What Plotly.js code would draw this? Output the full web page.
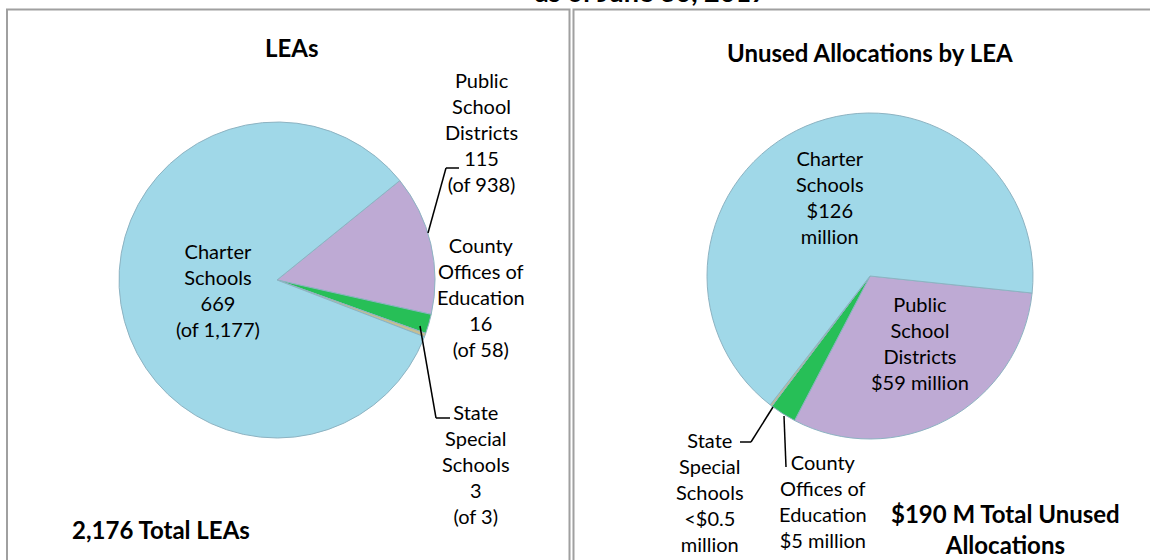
<!DOCTYPE html>
<html>
<head>
<meta charset="utf-8">
<script src="https://cdn.plot.ly/plotly-3.0.1.min.js"></script>
<style>
  html, body { margin: 0; padding: 0; background: #fff; }
  #chart { width: 1150px; height: 560px; }
</style>
</head>
<body>
<div id="chart"></div>
<script>
// slice order: districts, county offices, state special, charter
var sliceNames = ['Public School Districts', 'County Offices of Education', 'State Special Schools', 'Charter Schools'];
var sliceLabels = ['Public<br>School<br>Districts', 'County<br>Offices of<br>Education', 'State<br>Special<br>Schools', 'Charter<br>Schools'];
var sliceColors = ['#BEAAD4', '#27BF57', '#C6BE92', '#A0D8E8'];

var leaCounts = [115, 16, 3, 669];
var leaTotals = [938, 58, 3, 1177];
var leaGrandTotal = '2,176';

var unusedMillions = [59, 5, 0.4, 126];
var unusedText = ['$59 million', '$5 million', '<$0.5<br>million', '$126<br>million'];
var unusedGrandTotal = '$190 M';

var W = 1150, H = 560;
var FONT = 'Lato, "Open Sans", sans-serif';

function px(x) { return x / W; }
function py(y) { return 1 - y / H; }

function fmt(n) { return n.toLocaleString('en-US'); }

var leaText = sliceLabels.map(function (l, i) {
    return l + '<br>' + fmt(leaCounts[i]) + '<br>(of ' + fmt(leaTotals[i]) + ')';
});
var allocText = sliceLabels.map(function (l, i) {
    return l + '<br>' + unusedText[i];
});

var leaPie = {
    type: 'pie',
    labels: sliceNames,
    values: leaCounts,
    sort: false,
    direction: 'clockwise',
    rotation: 51,
    textinfo: 'none',
    hoverinfo: 'label+value',
    marker: { colors: sliceColors, line: { color: '#8DB3C2', width: 1 } },
    domain: { x: [px(277 - 158), px(277 + 158)], y: [py(280 + 158), py(280 - 158)] },
    showlegend: false
};

var allocPie = {
    type: 'pie',
    labels: sliceNames,
    values: unusedMillions,
    sort: false,
    direction: 'clockwise',
    rotation: 96,
    textinfo: 'none',
    hoverinfo: 'label+value',
    marker: { colors: sliceColors, line: { color: '#8DB3C2', width: 1 } },
    domain: { x: [px(870 - 163), px(870 + 163)], y: [py(276 + 163), py(276 - 163)] },
    showlegend: false
};

function note(text, x, y, size, bold) {
    return {
        xref: 'paper', yref: 'paper',
        x: px(x), y: py(y),
        xanchor: 'center', yanchor: 'middle',
        text: bold ? '<b>' + text + '</b>' : text,
        showarrow: false,
        align: 'center',
        font: { family: FONT, size: size, color: '#000' }
    };
}

function seg(x0, y0, x1, y1) {
    return {
        type: 'line', xref: 'paper', yref: 'paper',
        x0: px(x0), y0: py(y0), x1: px(x1), y1: py(y1),
        line: { color: '#000', width: 1.5 }
    };
}

var annotations = [
    note('as of June 30, 2017', 651, -9, 27, true),
    note('LEAs', 292, 47, 24, true),
    note('Unused Allocations by LEA', 870, 52, 24, true),

    note(leaText[3], 218, 290, 20),
    note(leaText[0], 481, 132, 20),
    note(leaText[1], 481, 297, 20),
    note(leaText[2], 476, 464, 20),
    note(leaGrandTotal + ' Total LEAs', 161, 529, 24, true),

    note(allocText[3], 830, 197, 20),
    note(allocText[0], 920, 343, 20),
    note(allocText[2], 710, 492, 20),
    note(allocText[1], 823, 501, 20),
    note(unusedGrandTotal + ' Total Unused<br>Allocations', 1005, 529, 24, true)
];

var shapes = [
    // panel frames
    { type: 'rect', xref: 'paper', yref: 'paper', x0: px(7), x1: px(569.5), y0: py(9.5), y1: py(575),
      line: { color: '#A0A0A0', width: 2 } },
    { type: 'rect', xref: 'paper', yref: 'paper', x0: px(573.5), x1: px(1165), y0: py(9.5), y1: py(575),
      line: { color: '#A0A0A0', width: 2 } },
    // leader lines, left pie
    seg(459, 168, 446, 168),
    seg(446, 168, 428, 233),
    seg(420, 326, 436, 418),
    seg(436, 418, 450, 418),
    // leader lines, right pie
    seg(773, 407, 751, 442),
    seg(751, 442, 740, 442),
    seg(784, 416, 786, 467)
];

var layout = {
    width: W,
    height: H,
    margin: { l: 0, r: 0, t: 0, b: 0 },
    paper_bgcolor: '#fff',
    plot_bgcolor: '#fff',
    font: { family: FONT, color: '#000' },
    annotations: annotations,
    shapes: shapes,
    showlegend: false
};

Plotly.newPlot('chart', [leaPie, allocPie], layout, { displayModeBar: false, staticPlot: true });
</script>
</body>
</html>
